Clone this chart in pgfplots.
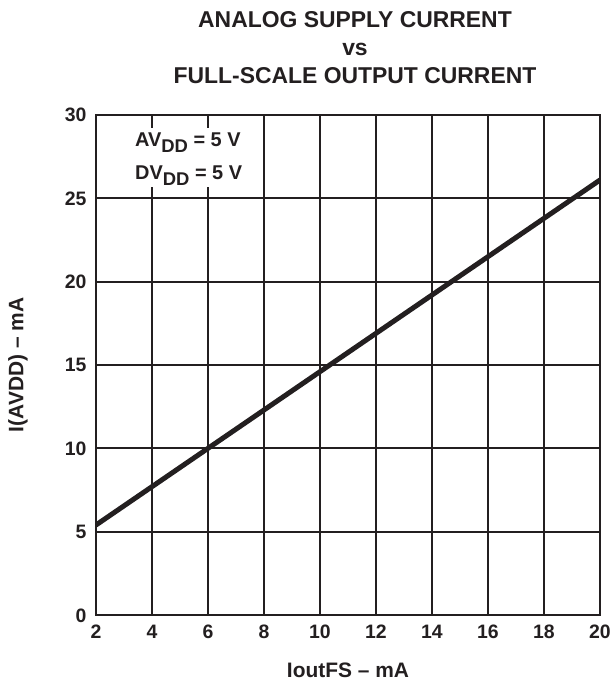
\documentclass[border=0pt]{standalone}
\usepackage{pgfplots}
\pgfplotsset{compat=1.18}
\usepackage{fontspec}
\setmainfont{Liberation Sans}
\definecolor{ink}{HTML}{231F20}
\begin{document}
\begin{tikzpicture}
\useasboundingbox (-96bp,-70bp) rectangle (514bp,615bp);
\begin{axis}[
  at={(0,0)}, anchor=south west,
  scale only axis, width=504bp, height=500bp,
  xmin=2, xmax=20, ymin=0, ymax=30,
  xtick={2,4,...,20}, ytick={0,5,...,30},
  grid=major, major grid style={ink, line width=1.8bp},
  axis line style={ink, line width=2.8bp},
  major tick length=0pt,
  /pgf/number format/assume math mode=true,
  tick label style={font=\fontsize{19.5}{22}\selectfont\bfseries, text=ink, text height=14bp, text depth=0pt},
  xticklabel style={yshift=-6bp},
  yticklabel style={xshift=-6bp},
  xlabel={IoutFS -- mA}, ylabel={I(AVDD) -- mA},
  every axis x label/.style={at={(axis description cs:0.5,0)}, anchor=center, yshift=-55.5bp, font=\fontsize{21}{24}\selectfont\bfseries, text=ink},
  every axis y label/.style={at={(axis description cs:0,0.5)}, xshift=-78bp, rotate=90, anchor=center, font=\fontsize{21}{24}\selectfont\bfseries, text=ink},
  title={ANALOG SUPPLY CURRENT\\vs\\FULL-SCALE OUTPUT CURRENT},
  title style={at={(axis description cs:0.5,1)}, anchor=north, xshift=7bp, yshift=101bp, align=center, font=\fontsize{23}{28}\selectfont\bfseries, text=ink},
]
\addplot[ink, line width=5bp] coordinates {(2,5.4) (20,26.1)};
\fill[white] ([shift={(2bp,-13bp)}]axis description cs:0,1) rectangle ([shift={(162bp,-72bp)}]axis description cs:0,1);
\node[anchor=base west, inner sep=0, font=\fontsize{20}{22}\selectfont\bfseries, text=ink] at ([shift={(39bp,-32bp)}]axis description cs:0,1) {AV\raisebox{-6bp}{\fontsize{18.5}{20}\selectfont DD} = 5 V};
\node[anchor=base west, inner sep=0, font=\fontsize{20}{22}\selectfont\bfseries, text=ink] at ([shift={(39bp,-65bp)}]axis description cs:0,1) {DV\raisebox{-6bp}{\fontsize{18.5}{20}\selectfont DD} = 5 V};
\end{axis}
\end{tikzpicture}
\end{document}
